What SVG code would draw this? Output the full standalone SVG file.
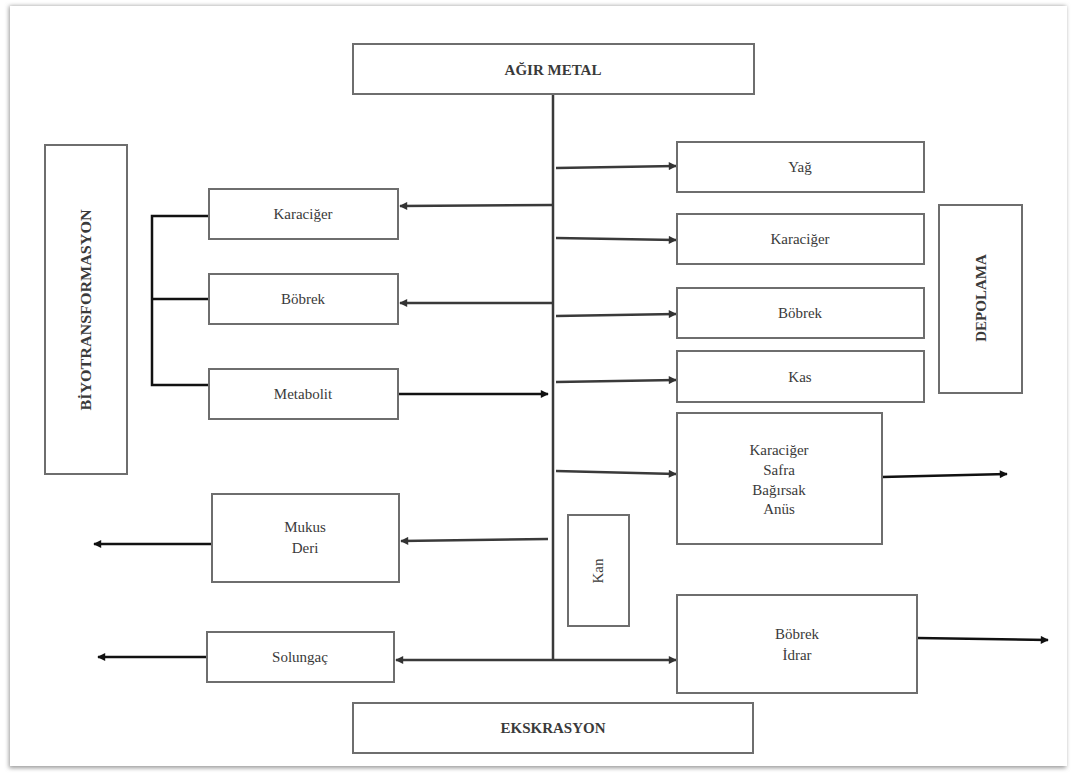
<svg xmlns="http://www.w3.org/2000/svg" width="1071" height="774" viewBox="0 0 1071 774">
<defs>
<marker id="ah" viewBox="0 0 10 10" refX="9" refY="5" markerWidth="10" markerHeight="8" markerUnits="userSpaceOnUse" orient="auto">
<path d="M0,0 L10,5 L0,10 z" fill="#333"/>
</marker>
<marker id="ahk" viewBox="0 0 10 10" refX="9" refY="5" markerWidth="10" markerHeight="8" markerUnits="userSpaceOnUse" orient="auto">
<path d="M0,0 L10,5 L0,10 z" fill="#111"/>
</marker>
<filter id="sh" x="-5%" y="-5%" width="110%" height="110%">
<feGaussianBlur stdDeviation="2"/>
</filter>
<style>
.box{fill:#fff;stroke:#6e6e6e;stroke-width:2}
.t{font-family:"Liberation Serif","Times New Roman",serif;font-size:15px;fill:#3a3a3a;text-anchor:middle}
.b{font-family:"Liberation Serif","Times New Roman",serif;font-size:15px;font-weight:bold;fill:#3a3a3a;text-anchor:middle}
.c{fill:none;stroke:#3a3a3a;stroke-width:2.5}
.k{fill:none;stroke:#111;stroke-width:2.5}
</style>
</defs>
<rect width="1071" height="774" fill="#fff"/>
<rect x="9" y="6" width="1057" height="762" fill="#9a9a9a" filter="url(#sh)"/>
<rect x="10" y="6" width="1057" height="760" fill="#fff"/>

<g id="connectors">
<line class="c" x1="553" y1="94" x2="553" y2="660"/>
<line class="c" x1="556" y1="168" x2="676" y2="166" marker-end="url(#ah)"/>
<line class="c" x1="556" y1="238" x2="676" y2="240" marker-end="url(#ah)"/>
<line class="c" x1="556" y1="316" x2="676" y2="314" marker-end="url(#ah)"/>
<line class="c" x1="556" y1="382" x2="676" y2="380" marker-end="url(#ah)"/>
<line class="c" x1="556" y1="471" x2="676" y2="474" marker-end="url(#ah)"/>
<line class="c" x1="553" y1="205" x2="400" y2="206" marker-end="url(#ah)"/>
<line class="c" x1="553" y1="303" x2="400" y2="303" marker-end="url(#ah)"/>
<line class="k" x1="398" y1="394" x2="548" y2="394" marker-end="url(#ahk)"/>
<line class="c" x1="548" y1="539" x2="401" y2="541" marker-end="url(#ah)"/>
<line class="c" x1="553" y1="660" x2="396" y2="660" marker-end="url(#ah)"/>
<line class="c" x1="553" y1="660" x2="676" y2="660" marker-end="url(#ah)"/>
<path class="k" d="M209,216 H152 V385 H210 M152,299 H209"/>
<line class="k" x1="882" y1="477" x2="1007" y2="474" marker-end="url(#ahk)"/>
<line class="k" x1="917" y1="638" x2="1048" y2="640" marker-end="url(#ahk)"/>
<line class="k" x1="212" y1="544" x2="94" y2="544" marker-end="url(#ahk)"/>
<line class="k" x1="207" y1="657" x2="98" y2="657" marker-end="url(#ahk)"/>
</g>

<g id="agir-metal"><rect class="box" x="353" y="44" width="401" height="50"/><text class="b" x="553" y="75">AĞIR METAL</text></g>
<g id="biyotransformasyon"><rect class="box" x="45" y="145" width="82" height="329"/><text class="b" transform="translate(91,310) rotate(-90)" textLength="201" lengthAdjust="spacingAndGlyphs">BİYOTRANSFORMASYON</text></g>
<g id="karaciger-l"><rect class="box" x="209" y="189" width="189" height="50"/><text class="t" x="303" y="219">Karaciğer</text></g>
<g id="bobrek-l"><rect class="box" x="209" y="274" width="189" height="50"/><text class="t" x="303" y="304">Böbrek</text></g>
<g id="metabolit"><rect class="box" x="209" y="369" width="189" height="50"/><text class="t" x="303" y="399">Metabolit</text></g>
<g id="mukus-deri"><rect class="box" x="212" y="494" width="187" height="88"/><text class="t" x="305" y="532">Mukus</text><text class="t" x="305" y="553">Deri</text></g>
<g id="solungac"><rect class="box" x="207" y="632" width="187" height="50"/><text class="t" x="300" y="662">Solungaç</text></g>
<g id="kan"><rect class="box" x="568" y="515" width="61" height="111"/><text class="t" transform="translate(603,571) rotate(-90)">Kan</text></g>
<g id="ekskrasyon"><rect class="box" x="353" y="703" width="400" height="50"/><text class="b" x="553" y="733">EKSKRASYON</text></g>
<g id="yag"><rect class="box" x="677" y="142" width="247" height="50"/><text class="t" x="800" y="172">Yağ</text></g>
<g id="karaciger-r"><rect class="box" x="677" y="214" width="247" height="50"/><text class="t" x="800" y="244">Karaciğer</text></g>
<g id="bobrek-r"><rect class="box" x="677" y="288" width="247" height="50"/><text class="t" x="800" y="318">Böbrek</text></g>
<g id="kas"><rect class="box" x="677" y="351" width="247" height="51"/><text class="t" x="800" y="382">Kas</text></g>
<g id="depolama"><rect class="box" x="939" y="205" width="83" height="188"/><text class="b" transform="translate(986,298) rotate(-90)">DEPOLAMA</text></g>
<g id="karaciger-safra"><rect class="box" x="677" y="413" width="205" height="131"/><text class="t" x="779" y="455">Karaciğer</text><text class="t" x="779" y="475">Safra</text><text class="t" x="779" y="495">Bağırsak</text><text class="t" x="779" y="514">Anüs</text></g>
<g id="bobrek-idrar"><rect class="box" x="677" y="595" width="240" height="98"/><text class="t" x="797" y="639">Böbrek</text><text class="t" x="797" y="660">İdrar</text></g>
</svg>
